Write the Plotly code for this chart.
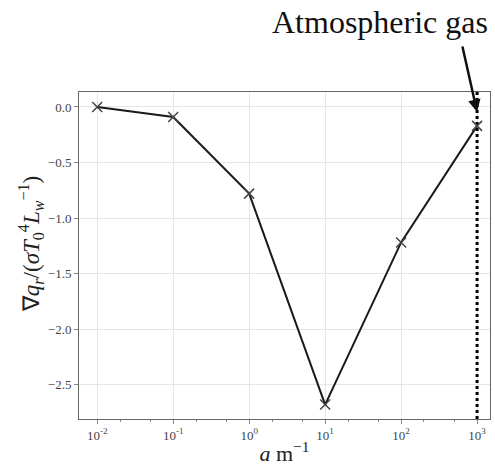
import plotly.graph_objects as go

a_vals = [1e-2, 1e-1, 1e0, 1e1, 1e2, 1e3]
divq = [0.0, -0.09, -0.78, -2.68, -1.22, -0.17]
gas_a = 1e3
xtick_vals = [1e-2, 1e-1, 1e0, 1e1, 1e2, 1e3]
xtick_text = ["10<sup>-2</sup>", "10<sup>-1</sup>", "10<sup>0</sup>", "10<sup>1</sup>", "10<sup>2</sup>", "10<sup>3</sup>"]
ytick_vals = [0.0, -0.5, -1.0, -1.5, -2.0, -2.5]
ytick_text = ["0.0", "−0.5", "−1.0", "−1.5", "−2.0", "−2.5"]
yrange = [-2.81, 0.135]

serif = "Liberation Serif, Times New Roman, serif"

fig = go.Figure()
fig.add_trace(go.Scatter(
    x=[gas_a, gas_a], y=yrange, mode="lines",
    line=dict(color="black", width=3, dash="dot"), showlegend=False, hoverinfo="skip"))
fig.add_trace(go.Scatter(
    x=a_vals, y=divq, mode="lines+markers",
    line=dict(color="#1a1a1a", width=2),
    marker=dict(symbol="x-thin", size=10, line=dict(color="#444", width=1.5)),
    showlegend=False))

axis_common = dict(
    showline=True, linecolor="#666", linewidth=1, mirror=True,
    showgrid=True, gridcolor="#e6e6e6", gridwidth=1,
    ticks="outside", ticklen=4, tickcolor="#888",
    tickfont=dict(family=serif, size=13, color="#444"),
    zeroline=False,
)
fig.update_xaxes(type="log", range=[-2.24, 3.17], tickvals=xtick_vals, ticktext=xtick_text,
                 minor=dict(ticks="outside", ticklen=2, tickcolor="#888", showgrid=False),
                 title=dict(text="<i>a</i> m<sup>−1</sup>", font=dict(family=serif, size=22, color="#222"), standoff=4),
                 **axis_common)
fig.update_yaxes(range=yrange, tickvals=ytick_vals, ticktext=ytick_text, **axis_common)

fig.add_annotation(x=-0.119, y=0.535, xref="paper", yref="paper", textangle=-90,
                   text="∇<i>q</i><sub><i>r</i></sub>/(<i>σT</i><sub>0</sub><sup>4</sup><i>L</i><sub><i>w</i></sub><sup>−1</sup>)",
                   showarrow=False, xanchor="center", yanchor="middle",
                   font=dict(family=serif, size=23, color="#222"))

fig.add_annotation(x=3, y=-0.045, xref="x", yref="y", ax=-15, ay=-67,
                   showarrow=True, arrowhead=2, arrowsize=1, arrowwidth=2.5, arrowcolor="#111", text="")
fig.add_annotation(x=0.732, y=1.214, xref="paper", yref="paper", text="Atmospheric gas",
                   showarrow=False, xanchor="center", yanchor="middle",
                   font=dict(family=serif, size=32, color="#111"))

fig.update_layout(width=495, height=470, margin=dict(l=79, r=5, t=92, b=51),
                  plot_bgcolor="white", paper_bgcolor="white")
fig.write_html("out.html")
